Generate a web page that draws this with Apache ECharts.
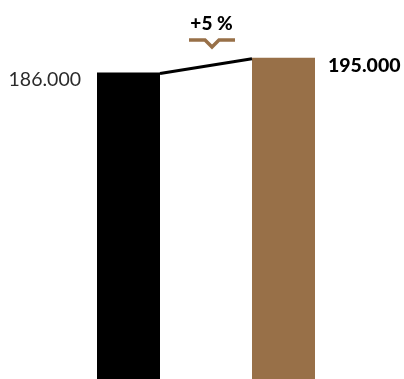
<!DOCTYPE html>
<html>
<head>
<meta charset="utf-8">
<script src="https://cdn.jsdelivr.net/npm/echarts@6/dist/echarts.min.js"></script>
<style>
  html, body { margin: 0; padding: 0; background: #fff; }
  #chart { width: 404px; height: 379px; }
</style>
</head>
<body>
<div id="chart"></div>
<script>
// values in thousands
const categories = ['before', 'after'];
const values = [186, 195];
const valueLabels = ['186.000', '195.000'];
const barColors = ['#000000', '#987048'];

const change = Math.round((values[1] - values[0]) / values[0] * 100);
const changeLabel = (change >= 0 ? '+' : '') + change + ' %';

const chart = echarts.init(document.getElementById('chart'));

const option = {
  animation: false,
  grid: { left: 51, right: 43, top: 0, bottom: 0 },
  xAxis: {
    type: 'category',
    data: categories,
    show: false
  },
  yAxis: {
    type: 'value',
    min: 0,
    max: 230,
    show: false
  },
  series: [
    {
      type: 'bar',
      barWidth: 63,
      z: 2,
      data: values.map((v, i) => ({
        value: v,
        itemStyle: { color: barColors[i] },
        label: i === 0 ? {
          show: true,
          position: [-16, 7],
          align: 'right',
          verticalAlign: 'middle',
          formatter: valueLabels[i],
          fontFamily: 'Lato',
          fontWeight: 400,
          fontSize: 19.5,
          color: '#2b2b2b'
        } : {
          show: true,
          position: [76, 8],
          align: 'left',
          verticalAlign: 'middle',
          formatter: valueLabels[i],
          fontFamily: 'Lato',
          fontWeight: 900,
          fontSize: 19.5,
          color: '#000'
        }
      }))
    },
    {
      // connector from top of first bar to top of second bar
      type: 'custom',
      z: 3,
      data: [0],
      renderItem: function (params, api) {
        const p0 = api.coord([0, values[0]]);
        const p1 = api.coord([1, values[1]]);
        const half = 63 / 2;
        return {
          type: 'line',
          shape: { x1: p0[0] + half, y1: p0[1] + 1, x2: p1[0] - half, y2: p1[1] + 1 },
          style: { stroke: '#000', lineWidth: 3 }
        };
      }
    }
  ],
  graphic: [
    {
      type: 'text',
      x: 211.5,
      y: 24,
      style: {
        text: changeLabel,
        align: 'center',
        verticalAlign: 'middle',
        fontFamily: 'Lato',
        fontWeight: 900,
        fontSize: 19,
        fill: '#000'
      }
    },
    {
      type: 'polyline',
      shape: { points: [[189, 40], [205, 40], [212, 47], [219, 40], [235, 40]] },
      style: { stroke: '#987048', lineWidth: 3.5, fill: null }
    }
  ]
};

chart.setOption(option);
</script>
</body>
</html>
